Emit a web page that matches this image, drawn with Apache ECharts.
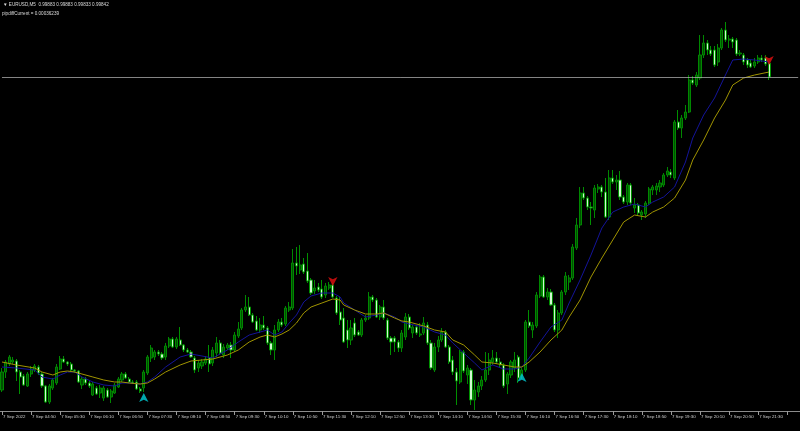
<!DOCTYPE html>
<html><head><meta charset="utf-8">
<script src="https://cdn.jsdelivr.net/npm/echarts/dist/echarts.min.js"></script>
<style>html,body{margin:0;padding:0;background:#000;}#c{width:800px;height:431px;}</style>
</head><body><div id="c"></div>
<script>
// EURUSD M5, 7 Sep 2022, bars from 04:10 to 21:45 (5-minute bars)
const firstBar = '04:10';
const barCount = 212;
const shiftBars = 8; // empty chart-shift space on the right
const openP = [0.98903,0.98957,0.98981,0.98987,0.98990,0.98957,0.98945,0.98915,0.98951,0.98963,0.98972,0.98951,0.98915,0.98867,0.98909,0.98924,0.98966,0.98996,0.98987,0.98981,0.98963,0.98960,0.98918,0.98936,0.98924,0.98888,0.98909,0.98894,0.98879,0.98903,0.98882,0.98894,0.98912,0.98933,0.98951,0.98936,0.98927,0.98927,0.98906,0.98909,0.98954,0.98999,0.99002,0.99017,0.99011,0.99002,0.99035,0.99056,0.99032,0.99053,0.99038,0.99023,0.99017,0.98999,0.98969,0.98975,0.98984,0.98999,0.98984,0.99014,0.99044,0.99008,0.99029,0.99038,0.99023,0.99065,0.99089,0.99143,0.99152,0.99128,0.99110,0.99083,0.99098,0.99089,0.99044,0.99023,0.99083,0.99107,0.99101,0.99143,0.99149,0.99284,0.99263,0.99281,0.99260,0.99233,0.99200,0.99212,0.99206,0.99188,0.99209,0.99218,0.99179,0.99137,0.99119,0.99083,0.99053,0.99104,0.99077,0.99068,0.99113,0.99119,0.99182,0.99173,0.99122,0.99152,0.99113,0.99059,0.99059,0.99047,0.99029,0.99062,0.99122,0.99074,0.99092,0.99068,0.99074,0.99098,0.99044,0.98963,0.99032,0.99053,0.99077,0.99032,0.98993,0.98957,0.98927,0.99017,0.98948,0.98963,0.98873,0.98897,0.98915,0.98933,0.98963,0.98987,0.98999,0.98987,0.98978,0.98921,0.98948,0.98969,0.99002,0.98945,0.98963,0.99107,0.99083,0.99095,0.99185,0.99242,0.99182,0.99197,0.99158,0.99083,0.99134,0.99197,0.99227,0.99239,0.99329,0.99398,0.99494,0.99479,0.99452,0.99443,0.99506,0.99512,0.99497,0.99422,0.99539,0.99527,0.99533,0.99482,0.99467,0.99518,0.99449,0.99458,0.99428,0.99431,0.99464,0.99503,0.99503,0.99512,0.99518,0.99548,0.99557,0.99539,0.99707,0.99689,0.99719,0.99737,0.99833,0.99818,0.99839,0.99908,0.99944,0.99923,0.99923,0.99887,0.99929,0.99983,0.99953,0.99956,0.99953,0.99911,0.99908,0.99893,0.99884,0.99875,0.99887,0.99899,0.99899,0.99883];
const highP = [0.98969,0.98993,0.99008,0.99002,0.98996,0.98963,0.98951,0.98957,0.98975,0.98981,0.98978,0.98957,0.98918,0.98921,0.98939,0.98981,0.99005,0.99005,0.98990,0.98987,0.98966,0.98963,0.98942,0.98942,0.98930,0.98927,0.98915,0.98918,0.98915,0.98909,0.98906,0.98924,0.98942,0.98957,0.98957,0.98942,0.98933,0.98933,0.98912,0.98963,0.99008,0.99038,0.99023,0.99023,0.99017,0.99044,0.99062,0.99062,0.99062,0.99092,0.99041,0.99029,0.99023,0.99005,0.98993,0.98996,0.99005,0.99038,0.99032,0.99062,0.99053,0.99041,0.99044,0.99047,0.99077,0.99107,0.99149,0.99188,0.99182,0.99134,0.99125,0.99119,0.99125,0.99095,0.99050,0.99098,0.99116,0.99119,0.99155,0.99167,0.99326,0.99332,0.99338,0.99299,0.99314,0.99239,0.99233,0.99224,0.99233,0.99224,0.99227,0.99224,0.99185,0.99182,0.99149,0.99113,0.99113,0.99119,0.99083,0.99119,0.99128,0.99197,0.99188,0.99179,0.99158,0.99173,0.99119,0.99065,0.99065,0.99053,0.99083,0.99134,0.99131,0.99098,0.99098,0.99104,0.99122,0.99107,0.99053,0.99044,0.99065,0.99089,0.99083,0.99038,0.99005,0.98969,0.99023,0.99023,0.98978,0.98969,0.98933,0.98927,0.98945,0.99017,0.99014,0.99023,0.99017,0.98999,0.98984,0.98957,0.98993,0.99017,0.99008,0.98969,0.99113,0.99143,0.99107,0.99197,0.99248,0.99248,0.99209,0.99206,0.99164,0.99143,0.99203,0.99257,0.99248,0.99341,0.99419,0.99512,0.99512,0.99485,0.99467,0.99518,0.99521,0.99518,0.99539,0.99563,0.99563,0.99548,0.99560,0.99488,0.99524,0.99524,0.99479,0.99464,0.99443,0.99470,0.99512,0.99518,0.99524,0.99533,0.99554,0.99572,0.99566,0.99713,0.99743,0.99728,0.99758,0.99848,0.99845,0.99857,0.99968,0.99968,0.99953,0.99935,0.99935,0.99941,0.99989,1.00007,0.99968,0.99962,0.99959,0.99923,0.99914,0.99899,0.99893,0.99899,0.99908,0.99908,0.99908,0.99883];
const lowP = [0.98897,0.98939,0.98975,0.98981,0.98930,0.98891,0.98915,0.98912,0.98942,0.98957,0.98948,0.98909,0.98864,0.98861,0.98903,0.98918,0.98963,0.98984,0.98975,0.98960,0.98954,0.98924,0.98906,0.98918,0.98909,0.98885,0.98888,0.98879,0.98870,0.98879,0.98864,0.98891,0.98909,0.98927,0.98936,0.98924,0.98921,0.98903,0.98894,0.98897,0.98948,0.98987,0.98993,0.99005,0.98993,0.98993,0.99029,0.99029,0.99026,0.99035,0.99017,0.99014,0.98999,0.98954,0.98957,0.98966,0.98978,0.98957,0.98975,0.99002,0.99008,0.98999,0.99023,0.98999,0.99017,0.99059,0.99083,0.99137,0.99125,0.99104,0.99080,0.99074,0.99083,0.99038,0.99008,0.98993,0.99077,0.99092,0.99095,0.99137,0.99143,0.99248,0.99251,0.99251,0.99224,0.99188,0.99191,0.99197,0.99176,0.99179,0.99203,0.99179,0.99128,0.99098,0.99044,0.99029,0.99038,0.99062,0.99065,0.99062,0.99107,0.99113,0.99167,0.99119,0.99113,0.99113,0.99053,0.99008,0.99017,0.99017,0.99017,0.99053,0.99083,0.99059,0.99068,0.99062,0.99068,0.99038,0.98963,0.98957,0.99017,0.99047,0.99029,0.98981,0.98948,0.98858,0.98921,0.98954,0.98921,0.98858,0.98843,0.98882,0.98903,0.98927,0.98948,0.98978,0.98981,0.98972,0.98909,0.98891,0.98939,0.98957,0.98924,0.98936,0.98957,0.99089,0.99059,0.99089,0.99179,0.99179,0.99173,0.99155,0.99077,0.99059,0.99128,0.99188,0.99203,0.99233,0.99323,0.99389,0.99473,0.99443,0.99398,0.99419,0.99494,0.99482,0.99419,0.99413,0.99521,0.99503,0.99473,0.99461,0.99458,0.99458,0.99434,0.99428,0.99413,0.99419,0.99458,0.99488,0.99488,0.99497,0.99512,0.99542,0.99539,0.99533,0.99683,0.99659,0.99713,0.99734,0.99818,0.99812,0.99833,0.99899,0.99908,0.99905,0.99872,0.99875,0.99923,0.99947,0.99929,0.99929,0.99905,0.99905,0.99878,0.99869,0.99869,0.99869,0.99881,0.99887,0.99875,0.99833];
const closeP = [0.98957,0.98987,0.99002,0.98993,0.98957,0.98942,0.98918,0.98951,0.98966,0.98975,0.98954,0.98915,0.98867,0.98915,0.98933,0.98972,0.98996,0.98987,0.98981,0.98963,0.98960,0.98927,0.98936,0.98924,0.98915,0.98921,0.98891,0.98909,0.98909,0.98882,0.98900,0.98918,0.98936,0.98951,0.98939,0.98927,0.98924,0.98906,0.98900,0.98957,0.99002,0.99029,0.99017,0.99011,0.98999,0.99035,0.99056,0.99032,0.99056,0.99038,0.99023,0.99017,0.99002,0.98963,0.98984,0.98987,0.98996,0.98981,0.99023,0.99044,0.99014,0.99032,0.99038,0.99023,0.99068,0.99086,0.99143,0.99152,0.99128,0.99107,0.99083,0.99098,0.99089,0.99044,0.99023,0.99083,0.99107,0.99098,0.99149,0.99152,0.99284,0.99275,0.99278,0.99257,0.99230,0.99194,0.99209,0.99203,0.99182,0.99215,0.99218,0.99182,0.99134,0.99113,0.99047,0.99053,0.99089,0.99068,0.99068,0.99113,0.99119,0.99182,0.99173,0.99122,0.99152,0.99119,0.99059,0.99047,0.99047,0.99029,0.99074,0.99122,0.99089,0.99092,0.99074,0.99071,0.99104,0.99044,0.98969,0.99032,0.99053,0.99077,0.99032,0.98987,0.98957,0.98930,0.99017,0.98960,0.98969,0.98873,0.98903,0.98915,0.98933,0.98963,0.98993,0.98999,0.98987,0.98978,0.98915,0.98951,0.98987,0.98993,0.98939,0.98963,0.99107,0.99095,0.99098,0.99188,0.99242,0.99182,0.99197,0.99158,0.99083,0.99134,0.99197,0.99245,0.99239,0.99332,0.99398,0.99494,0.99479,0.99452,0.99449,0.99509,0.99512,0.99497,0.99422,0.99539,0.99527,0.99533,0.99482,0.99467,0.99518,0.99464,0.99458,0.99434,0.99437,0.99464,0.99506,0.99512,0.99515,0.99524,0.99548,0.99560,0.99548,0.99707,0.99689,0.99719,0.99737,0.99833,0.99824,0.99848,0.99908,0.99944,0.99923,0.99911,0.99878,0.99929,0.99983,0.99953,0.99956,0.99947,0.99911,0.99914,0.99887,0.99878,0.99872,0.99887,0.99899,0.99893,0.99881,0.99842];
// moving averages read at selected bar times
const maTimes = ['04:10','04:30','04:55','05:05','05:20','05:30','05:40','05:50','06:00','06:15','06:30','06:45','06:55','07:05','07:20','07:30','07:40','07:55','08:15','08:30','08:45','09:00','09:20','09:35','09:50','10:05','10:15','10:25','10:35','10:45','10:55','11:05','11:15','11:30','11:45','11:55','12:00','12:15','12:30','12:45','12:55','13:10','13:20','13:30','13:50','14:05','14:20','14:30','14:45','15:00','15:10','15:25','15:40','15:55','16:05','16:15','16:30','16:45','17:00','17:10','17:25','17:40','17:55','18:10','18:25','18:40','18:55','19:05','19:20','19:35','19:50','20:00','20:15','20:30','20:45','20:55','21:10','21:25','21:45'];
const maFast = [0.98972,0.98969,0.98963,0.98942,0.98936,0.98948,0.98957,0.98957,0.98942,0.98927,0.98918,0.98915,0.98924,0.98924,0.98921,0.98927,0.98942,0.98972,0.99002,0.99011,0.99005,0.98999,0.99023,0.99047,0.99068,0.99077,0.99083,0.99068,0.99077,0.99104,0.99128,0.99167,0.99185,0.99194,0.99194,0.99182,0.99164,0.99143,0.99122,0.99128,0.99134,0.99122,0.99107,0.99101,0.99092,0.99077,0.99068,0.99044,0.99014,0.98984,0.98963,0.98978,0.98966,0.98966,0.98972,0.98999,0.99047,0.99092,0.99113,0.99164,0.99233,0.99308,0.99389,0.99437,0.99452,0.99461,0.99452,0.99467,0.99482,0.99512,0.99587,0.99659,0.99728,0.99779,0.99848,0.99893,0.99896,0.99893,0.99887];
const maSlow = [0.98987,0.98978,0.98969,0.98957,0.98948,0.98957,0.98960,0.98957,0.98951,0.98942,0.98933,0.98927,0.98927,0.98924,0.98921,0.98924,0.98936,0.98957,0.98978,0.98990,0.98993,0.98996,0.99008,0.99023,0.99047,0.99062,0.99068,0.99062,0.99071,0.99083,0.99104,0.99134,0.99152,0.99164,0.99176,0.99173,0.99158,0.99143,0.99131,0.99131,0.99134,0.99119,0.99110,0.99107,0.99095,0.99083,0.99077,0.99053,0.99038,0.99008,0.98987,0.98984,0.98978,0.98972,0.98972,0.98987,0.99017,0.99053,0.99083,0.99122,0.99173,0.99242,0.99299,0.99353,0.99407,0.99428,0.99422,0.99437,0.99452,0.99479,0.99533,0.99593,0.99653,0.99719,0.99773,0.99818,0.99839,0.99848,0.99857];
// signal arrows
const upArrowTimes = ['07:25','16:05'];
const upArrowVals = [0.98894,0.98954];
const downArrowTimes = ['11:45','21:45'];
const downArrowVals = [0.99215,0.99878];
const lastPrice = 0.99842;
const headerLine1 = '\u25BC EURUSD,M5  0.99883 0.99883 0.99833 0.99842';
const headerLine2 = 'pipdiffCurrent = 0.00036239';
const priceMin = 0.98840, priceMax = 1.00013;

function pad(n){return (n<10?'0':'')+n;}
const startMin = parseInt(firstBar.slice(0,2))*60 + parseInt(firstBar.slice(3));
const categories = [];
for (let i = 0; i < barCount + shiftBars; i++) {
  const m = startMin + 5*i;
  categories.push(pad(Math.floor(m/60)) + ':' + pad(m%60));
}
const candleData = openP.map((o,i)=>[o, closeP[i], lowP[i], highP[i]]);
const fastData = maTimes.map((t,i)=>[t, maFast[i]]);
const slowData = maTimes.map((t,i)=>[t, maSlow[i]]);
const upData = upArrowTimes.map((t,i)=>[t, upArrowVals[i]]);
const downData = downArrowTimes.map((t,i)=>[t, downArrowVals[i]]);

const chart = echarts.init(document.getElementById('c'), null, {renderer:'canvas'});
const lblFont = 'Liberation Sans';
chart.setOption({
  animation: false,
  backgroundColor: '#000000',
  grid: {left: 0, right: 0, top: 20, bottom: 20, show: false},
  graphic: [
    {type:'text', left: 3, top: 2, style:{text: headerLine1, fill:'#dcdcdc', font:'4.6px "Liberation Sans"'}},
    {type:'text', left: 2, top: 11, style:{text: headerLine2, fill:'#dcdcdc', font:'4.6px "Liberation Sans"'}}
  ],
  xAxis: [{
    type: 'category', data: categories, boundaryGap: true, position: 'bottom',
    axisLine: {show: true, onZero: false, lineStyle: {color: '#8c8c8c', width: 1}},
    axisTick: {show: true, interval: 7, alignWithLabel: true, length: 4, lineStyle:{color:'#9a9a9a'}},
    axisLabel: {
      show: true, interval: 7, align: 'left', margin: 4, color: '#d0d0d0',
      fontSize: 4.4, fontFamily: lblFont, padding: [0,0,0,1],
      formatter: function(v, idx){
        if (idx >= barCount) return '';
        if (idx === 0) return '7 Sep 2022';
        return '7 Sep ' + v;
      }
    },
    splitLine: {show: false}
  }],
  yAxis: [{
    type: 'value', min: priceMin, max: priceMax, show: false,
    axisLine: {show: false}, splitLine: {show: false}
  }],
  series: [
    {
      type: 'candlestick', name: 'EURUSD', data: candleData, barWidth: 2.6,
      itemStyle: {color: '#005000', color0: '#d0f8d0', borderColor: '#008800', borderColor0: '#009000', borderWidth: 1},
      z: 3
    },
    {type:'line', name:'MA fast', data: fastData, showSymbol:false, symbol:'none',
     lineStyle:{color:'#14149a', width:1}, z: 4},
    {type:'line', name:'MA slow', data: slowData, showSymbol:false, symbol:'none',
     lineStyle:{color:'#a09400', width:1}, z: 4},
    {type:'line', name:'Bid', data: [], showSymbol:false, z: 2,
     markLine: {
        silent: true, symbol: ['none','none'], label: {show: false},
        lineStyle: {color: '#b0b0b0', width: 1, type: 'solid', opacity: 0.75},
        data: [[{coord: [categories[0], lastPrice]}, {coord: [categories[categories.length-1], lastPrice]}]]
     }},
    {type:'scatter', name:'buy', data: upData, symbol:'arrow', symbolSize:[7,9],
     itemStyle:{color:'#00d0d8'}, z: 5},
    {type:'scatter', name:'sell', data: downData, symbol:'arrow', symbolSize:[7,9], symbolRotate: 180,
     itemStyle:{color:'#e81010'}, z: 5}
  ]
});
</script>
</body></html>
